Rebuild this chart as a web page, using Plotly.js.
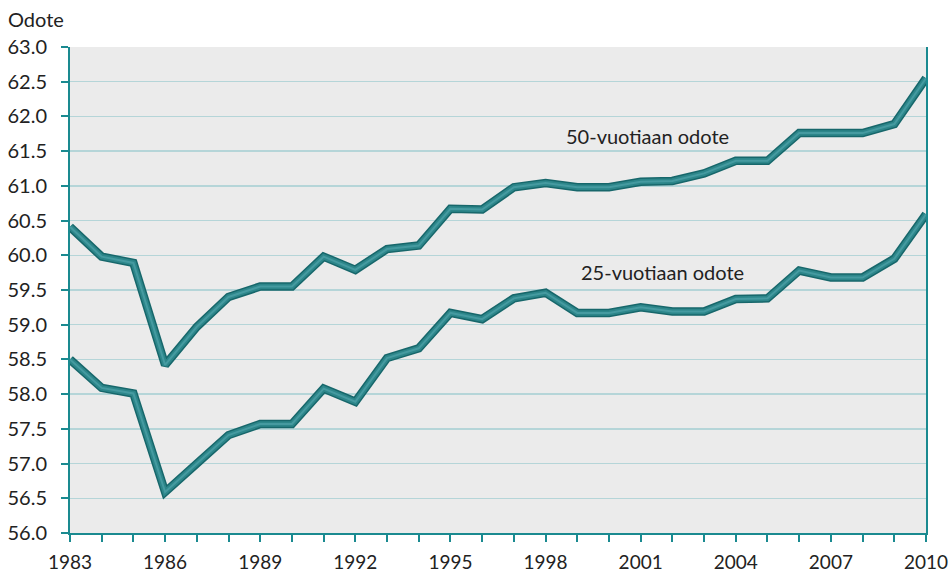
<!DOCTYPE html>
<html>
<head>
<meta charset="utf-8">
<script src="https://cdn.plot.ly/plotly-3.0.1.min.js"></script>
<style>body{margin:0;background:#fff;} #chart{width:949px;height:576px;}</style>
</head>
<body>
<div id="chart"></div>
<script>
const years = [1983,1984,1985,1986,1987,1988,1989,1990,1991,1992,1993,1994,1995,1996,1997,1998,1999,2000,2001,2002,2003,2004,2005,2006,2007,2008,2009,2010];
const odote50 = [60.41,59.98,59.89,58.42,58.97,59.40,59.55,59.55,59.98,59.79,60.09,60.14,60.67,60.66,60.98,61.04,60.98,60.98,61.06,61.07,61.18,61.36,61.36,61.76,61.76,61.76,61.89,62.55];
const odote25 = [58.50,58.09,58.01,56.59,57.00,57.41,57.57,57.57,58.08,57.89,58.52,58.66,59.17,59.08,59.38,59.46,59.17,59.17,59.25,59.19,59.19,59.37,59.38,59.78,59.68,59.68,59.95,60.59];
const xTickVals = [1983,1986,1989,1992,1995,1998,2001,2004,2007,2010];
const xTickText = ['1983','1986','1989','1992','1995','1998','2001','2004','2007','2010'];
const yTickVals = [56,56.5,57,57.5,58,58.5,59,59.5,60,60.5,61,61.5,62,62.5,63];
const yTickText = ['56.0','56.5','57.0','57.5','58.0','58.5','59.0','59.5','60.0','60.5','61.0','61.5','62.0','62.5','63.0'];
const labels = [
  {text:'50-vuotiaan odote', x:2001.2, y:61.72},
  {text:'25-vuotiaan odote', x:2001.7, y:59.76}
];

const font = 'Lato, Open Sans, sans-serif';
const traces = [];
[odote50, odote25].forEach(function(s){
  traces.push({x:years, y:s, type:'scatter', mode:'lines', line:{color:'#17676b', width:8.5}, hoverinfo:'skip', showlegend:false});
  traces.push({x:years, y:s, type:'scatter', mode:'lines', line:{color:'#2d868a', width:5.5}, hoverinfo:'skip', showlegend:false});
  traces.push({x:years, y:s, type:'scatter', mode:'lines', line:{color:'#459aa0', width:2}, hoverinfo:'skip', showlegend:false});
});

const layout = {
  width:949, height:576,
  margin:{l:70, r:23, t:47, b:43},
  paper_bgcolor:'#ffffff', plot_bgcolor:'#ebebeb',
  showlegend:false,
  font:{family:font, size:19, color:'#222'},
  xaxis:{
    range:[1983,2010], tickvals:xTickVals, ticktext:xTickText,
    ticks:'outside', ticklen:7, tickwidth:2, tickcolor:'#1a8a90',
    minor:{dtick:1, tick0:1983, ticks:'outside', ticklen:7, tickwidth:2, tickcolor:'#1a8a90', showgrid:false},
    showgrid:false, zeroline:false, ticklabelstandoff:4,
    showline:true, linecolor:'#1a8a90', linewidth:2,
    tickfont:{family:font, size:19, color:'#222'}
  },
  yaxis:{
    range:[56,63], tickvals:yTickVals, ticktext:yTickText,
    ticks:'outside', ticklen:7, tickwidth:2, tickcolor:'#1a8a90',
    showgrid:true, gridcolor:'#b5d5d8', gridwidth:1.5, zeroline:false,
    showline:true, mirror:true, linecolor:'#1a8a90', linewidth:2,
    ticklabelstandoff:10,
    tickfont:{family:font, size:20, color:'#222'}
  },
  annotations: labels.map(function(a){
    return {text:a.text, x:a.x, y:a.y, xref:'x', yref:'y', showarrow:false, font:{family:font, size:20, color:'#222'}};
  }).concat([{text:'Odote', xref:'paper', yref:'paper', x:-0.075, y:1.0, xanchor:'left', yanchor:'bottom', yshift:14, showarrow:false, font:{family:font, size:20, color:'#222'}}])
};

Plotly.newPlot('chart', traces, layout, {staticPlot:true, displayModeBar:false});
</script>
</body>
</html>
